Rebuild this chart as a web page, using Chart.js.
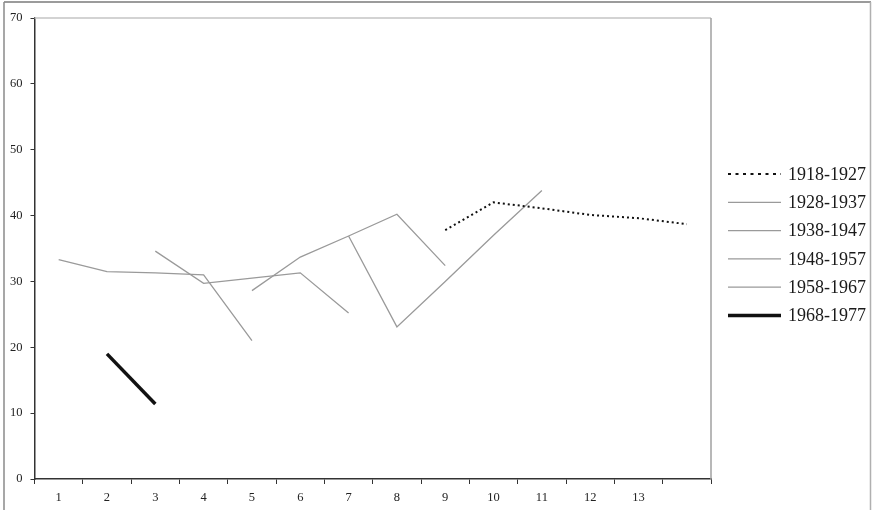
<!DOCTYPE html>
<html>
<head>
<meta charset="utf-8">
<script src="https://cdn.jsdelivr.net/npm/chart.js@4/dist/chart.umd.min.js"></script>
<style>
html,body{margin:0;padding:0;background:#fff;}
#wrap{width:872px;height:510px;position:relative;}
</style>
</head>
<body>
<div id="wrap"><canvas id="c" width="872" height="510"></canvas></div>
<script>
const categories = ['1','2','3','4','5','6','7','8','9','10','11','12','13',''];
const seriesNames = ['1918-1927','1928-1937','1938-1947','1948-1957','1958-1967','1968-1977'];
const s1918 = [null,null,null,null,null,null,null,null,37.8,42.0,41.1,40.1,39.6,38.7];
const s1928 = [null,null,null,null,null,null,36.9,23.1,30.0,37.0,43.8,null,null,null];
const s1938 = [null,null,null,null,28.6,33.7,36.9,40.2,32.4,null,null,null,null,null];
const s1948 = [null,null,34.6,29.7,30.5,31.3,25.2,null,null,null,null,null,null,null];
const s1958 = [33.3,31.5,31.3,31.0,21.0,null,null,null,null,null,null,null,null,null];
const s1968 = [null,19.0,11.4,null,null,null,null,null,null,null,null,null,null,null];
const yTicks = [0,10,20,30,40,50,60,70];

const serif = "'Liberation Serif','Times New Roman',serif";
const gray = '#9a9a9a';

function ds(label, data, color, width, dash, legendDash){
  return {label, data, borderColor:color, backgroundColor:color, borderWidth:width,
    borderDash:dash, legendDash:legendDash || dash, pointRadius:0, pointHoverRadius:0,
    spanGaps:false, tension:0, fill:false};
}

const datasets = [
  ds(seriesNames[0], s1918, '#111', 2, [2,3], [3,4.5]),
  ds(seriesNames[1], s1928, gray, 1.3, []),
  ds(seriesNames[2], s1938, gray, 1.3, []),
  ds(seriesNames[3], s1948, gray, 1.3, []),
  ds(seriesNames[4], s1958, gray, 1.3, []),
  ds(seriesNames[5], s1968, '#111', 3.5, []),
];

const framePlugin = {
  id:'frame',
  beforeDatasetsDraw(chart){
    const ctx = chart.ctx, a = chart.chartArea;
    ctx.save();
    ctx.lineWidth = 1.5;
    ctx.strokeStyle = '#c4c4c4';
    ctx.beginPath(); ctx.moveTo(a.left, a.top); ctx.lineTo(a.right, a.top); ctx.stroke();
    ctx.strokeStyle = '#a0a0a0';
    ctx.beginPath(); ctx.moveTo(a.right, a.top); ctx.lineTo(a.right, a.bottom); ctx.stroke();
    ctx.restore();
  },
  afterDraw(chart){
    const ctx = chart.ctx;
    ctx.save();
    ctx.lineWidth = 1.5;
    ctx.strokeStyle = '#7a7a7a';
    ctx.beginPath(); ctx.moveTo(4, 2); ctx.lineTo(871, 2); ctx.stroke();
    ctx.strokeStyle = '#8a8a8a';
    ctx.beginPath(); ctx.moveTo(4, 2); ctx.lineTo(4, 510); ctx.stroke();
    ctx.strokeStyle = '#b0b0b0';
    ctx.beginPath(); ctx.moveTo(870.5, 2); ctx.lineTo(870.5, 510); ctx.stroke();
    // legend
    chart.data.datasets.forEach((d, i) => {
      const y = 174 + i * 28.3;
      ctx.save();
      ctx.strokeStyle = d.borderColor;
      ctx.lineWidth = d.borderWidth;
      ctx.setLineDash(d.legendDash || []);
      ctx.beginPath(); ctx.moveTo(728, y); ctx.lineTo(781, y); ctx.stroke();
      ctx.restore();
      ctx.fillStyle = '#1a1a1a';
      ctx.font = '18px ' + serif;
      ctx.textBaseline = 'middle';
      ctx.textAlign = 'left';
      ctx.fillText(d.label, 788, y + 1);
    });
    ctx.restore();
  }
};

new Chart(document.getElementById('c'), {
  type:'line',
  data:{labels:categories, datasets},
  options:{
    responsive:false,
    animation:false,
    devicePixelRatio:1,
    layout:{padding:{left:0, top:18, right:161, bottom:0}},
    plugins:{legend:{display:false}, tooltip:{enabled:false}},
    scales:{
      x:{
        type:'category',
        offset:true,
        afterFit(s){ s.height = 31; },
        grid:{display:true, offset:true, drawOnChartArea:false, tickLength:5, color:'#333', tickWidth:1},
        border:{display:true, color:'#333', width:1.5},
        ticks:{font:{family:serif, size:12.5}, color:'#222', padding:6, maxRotation:0, autoSkip:false}
      },
      y:{
        min:0, max:70,
        afterFit(s){ s.width = 34.5; },
        afterBuildTicks(s){ s.ticks = yTicks.map(v => ({value:v})); },
        grid:{display:true, drawOnChartArea:false, tickLength:4, color:'#333', tickWidth:1},
        border:{display:true, color:'#333', width:1.5},
        ticks:{font:{family:serif, size:12.5}, color:'#222', padding:8}
      }
    }
  },
  plugins:[framePlugin]
});
</script>
</body>
</html>
